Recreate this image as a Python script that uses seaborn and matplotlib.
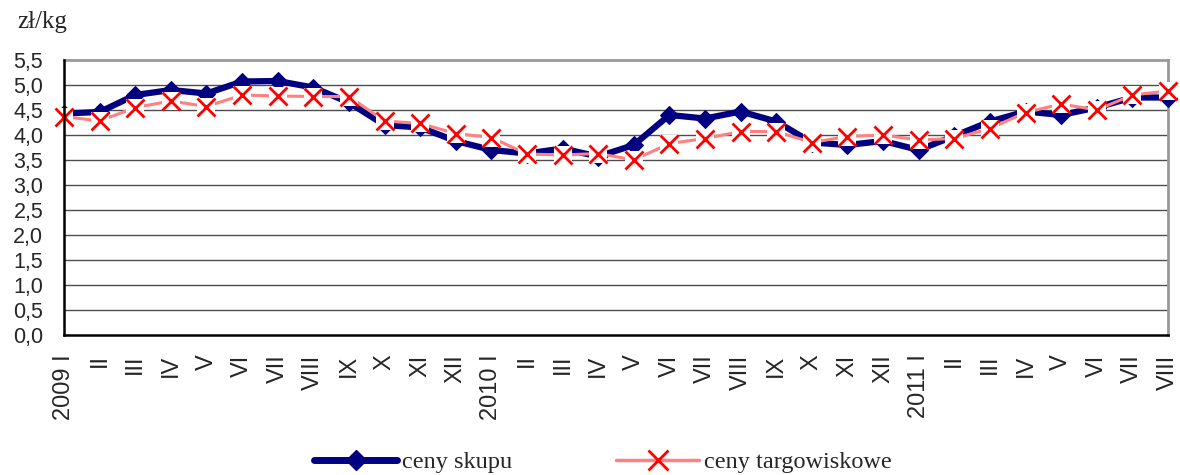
import matplotlib
matplotlib.use("Agg")
import matplotlib.pyplot as plt
from matplotlib.lines import Line2D
import seaborn as sns
import numpy as np

months = ["2009 I", "II", "III", "IV", "V", "VI", "VII", "VIII", "IX", "X", "XI", "XII",
          "2010 I", "II", "III", "IV", "V", "VI", "VII", "VIII", "IX", "X", "XI", "XII",
          "2011 I", "II", "III", "IV", "V", "VI", "VII", "VIII"]

ceny_skupu = [4.43, 4.46, 4.80, 4.90, 4.83, 5.07, 5.08, 4.95, 4.65, 4.20, 4.15, 3.88,
              3.70, 3.63, 3.73, 3.57, 3.80, 4.40, 4.33, 4.47, 4.27, 3.85, 3.80, 3.88,
              3.70, 3.98, 4.27, 4.47, 4.40, 4.55, 4.75, 4.75]

ceny_targowiskowe = [4.37, 4.28, 4.55, 4.68, 4.57, 4.80, 4.78, 4.77, 4.77, 4.28, 4.23, 4.03,
                     3.95, 3.62, 3.60, 3.63, 3.50, 3.83, 3.93, 4.07, 4.07, 3.85, 3.97, 4.00,
                     3.90, 3.93, 4.13, 4.45, 4.62, 4.50, 4.80, 4.88]

y_ticks = [0.0, 0.5, 1.0, 1.5, 2.0, 2.5, 3.0, 3.5, 4.0, 4.5, 5.0, 5.5]
y_tick_labels = ["0,0", "0,5", "1,0", "1,5", "2,0", "2,5", "3,0", "3,5", "4,0", "4,5", "5,0", "5,5"]

unit_label = "zł/kg"
series_names = ["ceny skupu", "ceny targowiskowe"]

sns.set_style("white")
plt.rcParams["font.family"] = ["Liberation Sans", "DejaVu Sans"]

fig = plt.figure(figsize=(11.8, 4.75), dpi=100)
ax = fig.add_axes([64 / 1180, 1 - 335 / 475, (1168 - 64) / 1180, (335 - 60) / 475])

x = np.arange(len(months))

for yv in y_ticks[1:-1]:
    ax.axhline(yv, color="#4d4d4d", lw=1.0, zorder=1)

navy = "#000080"
pink = "#FF8080"
red = "#FF0000"

sns.lineplot(x=x, y=ceny_skupu, ax=ax, color=navy, lw=4.5, marker="D", markersize=9,
             markeredgecolor=navy, markerfacecolor=navy, zorder=3, clip_on=False,
             solid_joinstyle="miter", legend=False)
sns.lineplot(x=x, y=ceny_targowiskowe, ax=ax, color=pink, lw=2.2, zorder=4,
             clip_on=False, legend=False)
sns.lineplot(x=x, y=ceny_targowiskowe, ax=ax, linestyle="", marker="s", markersize=13,
             markerfacecolor="white", markeredgecolor="white", markeredgewidth=0,
             zorder=5, clip_on=False, legend=False)
sns.lineplot(x=x, y=ceny_targowiskowe, ax=ax, linestyle="", marker="x", markersize=13,
             markeredgecolor=red, markeredgewidth=2.0, zorder=6, clip_on=False,
             legend=False)

ax.set_xlim(0, len(months) - 1)
ax.set_ylim(0, 5.5)
ax.set_yticks(y_ticks)
ax.set_yticklabels(y_tick_labels, fontsize=15.5)
ax.set_xticks(x)
ax.set_xticklabels(months, rotation=90, fontsize=17)
ax.tick_params(axis="x", direction="out", length=5, width=1.5, color="black", pad=9)
ax.tick_params(axis="y", direction="out", length=7, width=1.5, color="black", pad=8)
ax.set_xlabel("")
ax.set_ylabel("")

for s in ["left", "bottom"]:
    ax.spines[s].set_color("black")
    ax.spines[s].set_linewidth(1.8)
    ax.spines[s].set_zorder(7)
for s in ["top", "right"]:
    ax.spines[s].set_color("#999999")
    ax.spines[s].set_linewidth(2.0)

fig.text(17 / 1180, 1 - 22 / 475, unit_label, ha="left", va="center",
         fontsize=18, family=["Liberation Serif", "DejaVu Serif"])

handles = [
    Line2D([0], [0], color=navy, lw=5, marker="D", markersize=10,
           markerfacecolor=navy, markeredgecolor=navy, solid_capstyle="round"),
    Line2D([0], [0], color=pink, lw=2.5, marker="x", markersize=14,
           markeredgecolor=red, markeredgewidth=2.0),
]
fig.legend(handles, series_names, loc="center", bbox_to_anchor=(0.511, 0.027),
           ncol=2, frameon=False, handlelength=3.4, handletextpad=0.2,
           columnspacing=4.3, borderpad=0, borderaxespad=0,
           prop={"family": ["Liberation Serif", "DejaVu Serif"], "size": 17.5})

fig.savefig("out.png", dpi=100)
